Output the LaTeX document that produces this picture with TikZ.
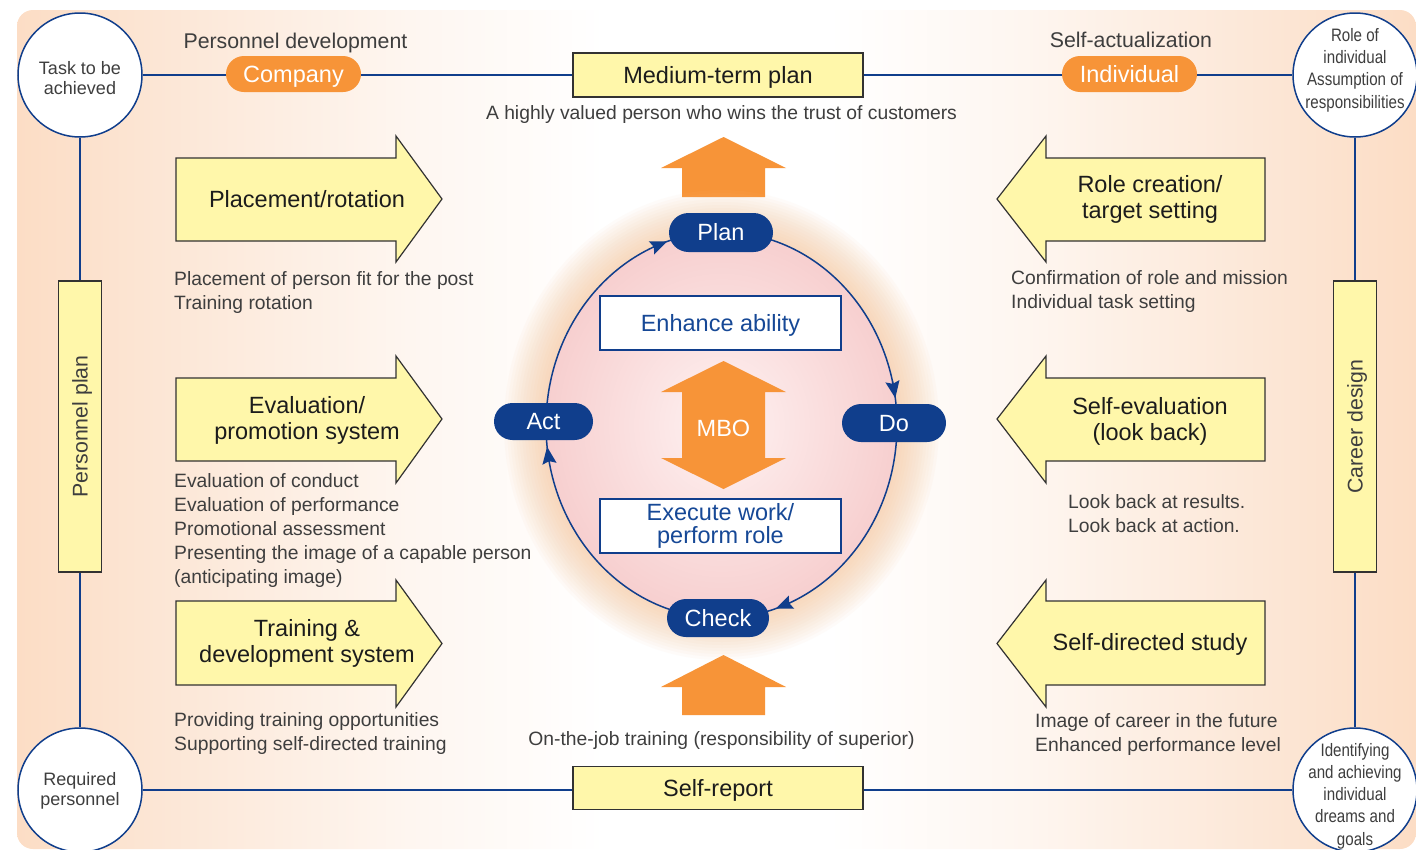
\documentclass[tikz,border=0pt]{standalone}
\usepackage{fontspec}
\setmainfont{Liberation Sans}
\newfontfamily\narrowfont[FakeStretch=0.84]{Liberation Sans}
\usetikzlibrary{shapes.misc,arrows.meta}
\definecolor{navy}{RGB}{16,62,140}
\definecolor{orng}{RGB}{247,148,56}
\definecolor{ylw}{RGB}{255,247,170}
\definecolor{peach}{RGB}{252,221,197}
\definecolor{peachB}{RGB}{252,230,213}
\definecolor{peachC}{RGB}{254,246,240}
\definecolor{txt}{RGB}{62,62,62}
\definecolor{boxtxt}{RGB}{28,28,28}
\definecolor{boxline}{RGB}{50,50,50}
\definecolor{pinkedge}{RGB}{247,207,207}
\definecolor{pinkmid}{RGB}{254,242,242}
\definecolor{glowc}{RGB}{248,190,140}
\definecolor{bluetxt}{RGB}{22,72,150}
\pgfdeclareradialshading{pinkshade}{\pgfpoint{0bp}{0bp}}{color(0bp)=(pinkmid); color(25bp)=(pinkedge); color(50bp)=(pinkedge)}
\pgfdeclarehorizontalshading{bgshade}{100bp}{color(0bp)=(peach); color(25bp)=(peach); color(30bp)=(peachB); color(39bp)=(peachC); color(46bp)=(white); color(54bp)=(white); color(61bp)=(peachC); color(70bp)=(peachB); color(75bp)=(peach); color(100bp)=(peach)}
\newcommand\myBody{\fontsize{19.3}{24}\selectfont}
\newcommand\myBig{\fontsize{23.5}{26}\selectfont}
\newcommand\myHead{\fontsize{21.3}{24}\selectfont}
\newcommand\myCirc{\fontsize{18}{20.5}\selectfont}
\newcommand\myNarrow{\narrowfont\fontsize{18}{22.3}\selectfont}
\begin{document}
\begin{tikzpicture}[x=1pt,y=-1pt,
  navyline/.style={draw=navy, line width=1.3pt},
  circ/.style={circle, draw=navy, line width=1.5pt, fill=white, minimum size=124pt, inner sep=0pt},
  ctext/.style={font=\myNarrow, text=txt, align=center, inner sep=0pt},
  ctextw/.style={font=\myCirc, text=txt, align=center, inner sep=0pt},
  capfix/.style={text height=16.8pt, text depth=0pt},
  ybox/.style={rectangle, draw=boxline, line width=1.2pt, fill=ylw, text=boxtxt, font=\myBig, inner sep=0pt},
  wbox/.style={rectangle, draw=navy, line width=1.2pt, fill=white, text=bluetxt, font=\myBig, inner sep=0pt, align=center},
  opill/.style={rounded rectangle, fill=orng, text=white, font=\myBig, inner sep=0pt, minimum width=135pt, minimum height=36pt, capfix},
  npill/.style={rounded rectangle, fill=navy, text=white, font=\myBig, inner sep=0pt, capfix},
  yarrow/.style={draw=boxline, line width=1.2pt, fill=ylw, line join=miter},
  atext/.style={font=\myBig, text=boxtxt, align=center, inner sep=0pt},
  desc/.style={font=\myBody, text=txt, anchor=base west, inner sep=0pt},
  head/.style={font=\myHead, text=txt, anchor=base, inner sep=0pt},
  ctr/.style={font=\myBody, text=txt, anchor=base, inner sep=0pt},
  cyc/.style={draw=navy, line width=1.5pt, -{Stealth[length=17pt,width=14pt,inset=2.5pt]}}
]
\useasboundingbox (0,0) rectangle (1416,849);
% background
\shade[shading=bgshade, rounded corners=16pt] (17,10) rectangle (1416,849);

% corner circles
\node[circ] (tl) at (80,75) {};
\node[circ] (tr) at (1355,75) {};
\node[circ] (bl) at (80,790) {};
\node[circ] (br) at (1355,790) {};
\node[ctextw] (tltext) at (80,78) {Task to be\\achieved};
\node[ctextw] (bltext) at (80,791) {Required\\personnel};
\node[ctext] (trtext) at (1355,70) {Role of\\individual\\Assumption of\\responsibilities};
\node[ctext] (brtext) at (1355,796) {Identifying\\and achieving\\individual\\dreams and\\goals};

% frame lines
\draw[navyline] (tl) -- (tr);
\draw[navyline] (bl) -- (br);
\draw[navyline] (tl) -- (bl);
\draw[navyline] (tr) -- (br);

% top / bottom elements
\node[head] (pdev) at (295.5,48) {Personnel development};
\node[head] (sact) at (1131,47) {Self-actualization};
\node[opill] (company) at (293.5,74) {Company};
\node[opill] (indiv) at (1129.5,74) {Individual};
\node[ybox, capfix, minimum width=290pt, minimum height=44pt] (mtp) at (718,75) {Medium-term plan};
\node[ctr] (trust) at (721.5,119) {A highly valued person who wins the trust of customers};
\node[ybox, capfix, minimum width=290pt, minimum height=43pt] (sr) at (718,788) {Self-report};
\node[ctr] (ojt) at (721.5,745) {On-the-job training (responsibility of superior)};

% side boxes
\node[ybox, font=\myHead, text=txt, text height=15.3pt, text depth=0pt, minimum width=291pt, minimum height=43pt, rotate=90] (pplan) at (80,426.5) {Personnel plan};
\node[ybox, font=\myHead, text=txt, text height=15.3pt, text depth=0pt, minimum width=291pt, minimum height=43pt, rotate=90] (cdes) at (1355,426.5) {Career design};

% orange arrows into / out of the cycle
\fill[orng] (682,197) -- (682,168) -- (661,168) -- (723.5,137) -- (786,168) -- (765,168) -- (765,197) -- cycle;
\fill[orng] (682,715) -- (682,687) -- (661,687) -- (723.5,655) -- (786,687) -- (765,687) -- (765,715) -- cycle;

% glow and cycle ellipse
\foreach \i in {1,...,14}
  \fill[glowc, opacity=0.05] (721.5,425) ellipse [x radius=175.5+3*\i, y radius=193+3*\i];
\shade[shading=pinkshade] (721.5,425) ellipse [x radius=175.5, y radius=193];
\draw[navy, line width=1.5pt] (721.5,425) ellipse [x radius=175.5, y radius=193];
\coordinate (a1s) at (652.9,247.3); \coordinate (a1e) at (667.3,241.4);
\coordinate (a2s) at (892.5,381.6); \coordinate (a2e) at (895.3,398.1);
\coordinate (a3s) at (790.1,602.7); \coordinate (a3e) at (775.7,608.6);
\coordinate (a4s) at (549.2,461.8); \coordinate (a4e) at (547.1,446.8);
\draw[cyc] (a1s) -- (a1e);
\draw[cyc] (a2s) -- (a2e);
\draw[cyc] (a3s) -- (a3e);
\draw[cyc] (a4s) -- (a4e);

% inner content
\node[wbox, capfix, minimum width=241pt, minimum height=54pt] (enh) at (720.5,323) {Enhance ability};
\node[wbox, minimum width=241pt, minimum height=54pt, font=\fontsize{23.5}{23.5}\selectfont] (exe) at (720.5,526) {Execute work/\\perform role};
\fill[orng] (723.5,361) -- (786,392) -- (765,392) -- (765,458) -- (786,458) -- (723.5,489) -- (661,458) -- (682,458) -- (682,392) -- (661,392) -- cycle;
\node[font=\myBig, text=white, inner sep=0pt] (mbo) at (723.5,428) {MBO};

% PDCA pills
\node[npill, minimum width=104pt, minimum height=39pt] (plan) at (721,232.5) {Plan};
\node[npill, minimum width=99pt, minimum height=37pt] (act) at (543.5,421.5) {Act};
\node[npill, minimum width=104pt, minimum height=38pt] (do) at (894,423) {Do};
\node[npill, minimum width=102pt, minimum height=38pt] (check) at (718,618) {Check};

% left yellow arrows
\draw[yarrow] (176,158) -- (396,158) -- (396,136) -- (442,199) -- (396,262) -- (396,241) -- (176,241) -- cycle;
\draw[yarrow] (176,378) -- (396,378) -- (396,356) -- (442,419) -- (396,483) -- (396,461) -- (176,461) -- cycle;
\draw[yarrow] (176,601) -- (396,601) -- (396,580) -- (442,643.5) -- (396,707) -- (396,685) -- (176,685) -- cycle;
\node[atext] (place) at (307,199) {Placement/rotation};
\node[atext] (evalp) at (307,420) {Evaluation/\\promotion system};
\node[atext] (train) at (307,643) {Training \&\\development system};

% right yellow arrows
\draw[yarrow] (1265,158) -- (1046,158) -- (1046,136) -- (997,199) -- (1046,262) -- (1046,241) -- (1265,241) -- cycle;
\draw[yarrow] (1265,378) -- (1046,378) -- (1046,356) -- (997,419) -- (1046,483) -- (1046,461) -- (1265,461) -- cycle;
\draw[yarrow] (1265,601) -- (1046,601) -- (1046,580) -- (997,643.5) -- (1046,707) -- (1046,685) -- (1265,685) -- cycle;
\node[atext] (role) at (1150,199) {Role creation/\\target setting};
\node[atext] (selfe) at (1150,421) {Self-evaluation\\(look back)};
\node[atext] (study) at (1150,644) {Self-directed study};

% descriptions left
\node[desc] (l1a) at (174,285.5) {Placement of person fit for the post};
\node[desc] (l1b) at (174,309.5) {Training rotation};
\node[desc] (l2a) at (174,487) {Evaluation of conduct};
\node[desc] (l2b) at (174,511) {Evaluation of performance};
\node[desc] (l2c) at (174,535) {Promotional assessment};
\node[desc] (l2d) at (174,559) {Presenting the image of a capable person};
\node[desc] (l2e) at (174,583) {(anticipating image)};
\node[desc] (l3a) at (174,726) {Providing training opportunities};
\node[desc] (l3b) at (174,750) {Supporting self-directed training};

% descriptions right
\node[desc] (r1a) at (1011,284) {Confirmation of role and mission};
\node[desc] (r1b) at (1011,308) {Individual task setting};
\node[desc] (r2a) at (1068,508) {Look back at results.};
\node[desc] (r2b) at (1068,532) {Look back at action.};
\node[desc] (r3a) at (1035,727) {Image of career in the future};
\node[desc] (r3b) at (1035,751) {Enhanced performance level};
\end{tikzpicture}
\end{document}
